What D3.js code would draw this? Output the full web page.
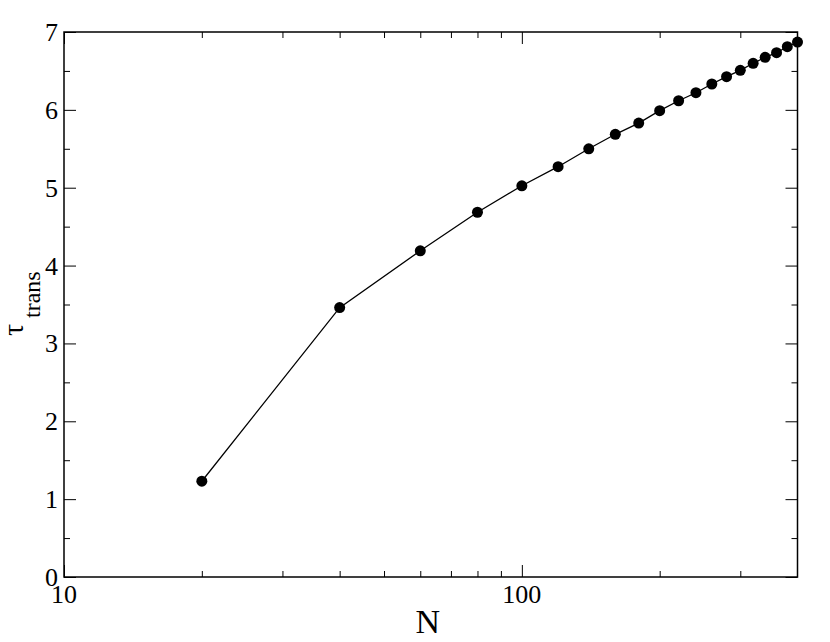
<!DOCTYPE html>
<html><head><meta charset="utf-8">
<script src="https://cdn.jsdelivr.net/npm/d3@7"></script>
<style>body{margin:0;background:#fff}svg{display:block}text{font-family:"Liberation Serif","Times New Roman",serif;fill:#000}</style>
</head><body>
<svg id="c" width="830" height="642"></svg>
<script>
const nValues = [20,40,60,80,100,120,140,160,180,200,220,240,260,280,300,320,340,360,380,400];
const tauValues = [1.23,3.46,4.19,4.685,5.025,5.27,5.50,5.686,5.83,5.99,6.117,6.22,6.332,6.426,6.508,6.598,6.675,6.734,6.811,6.871];
const xMajorTicks = [10,100];
const xMinorTicks = [20,30,40,50,60,70,80,90,200,300];
const yMajorTicks = [0,1,2,3,4,5,6,7];
const yMinorTicks = [0.5,1.5,2.5,3.5,4.5,5.5,6.5];

const L=64,R=797.5,T=32,B=577;
const svg=d3.select("#c");
const x=d3.scaleLog().domain([10,400]).range([L,R]);
const y=d3.scaleLinear().domain([0,7]).range([B,T]);

const g=svg.append("g");
function ticks(axisGen, transform, vals, len){
  const a=g.append("g").attr("transform",transform)
    .call(axisGen.tickValues(vals).tickSize(len).tickFormat(""));
  a.select(".domain").remove();
  a.selectAll("line").attr("stroke","#000").attr("stroke-width",1);
}
// inward ticks on all four sides
ticks(d3.axisTop(x),`translate(0,${B})`,xMajorTicks,12);
ticks(d3.axisTop(x),`translate(0,${B})`,xMinorTicks,6);
ticks(d3.axisBottom(x),`translate(0,${T})`,xMajorTicks,12);
ticks(d3.axisBottom(x),`translate(0,${T})`,xMinorTicks,6);
ticks(d3.axisRight(y),`translate(${L},0)`,yMajorTicks,12);
ticks(d3.axisRight(y),`translate(${L},0)`,yMinorTicks,6);
ticks(d3.axisLeft(y),`translate(${R},0)`,yMajorTicks,12);
ticks(d3.axisLeft(y),`translate(${R},0)`,yMinorTicks,6);

g.append("rect").attr("x",L).attr("y",T).attr("width",R-L).attr("height",B-T)
  .attr("fill","none").attr("stroke","#000").attr("stroke-width",1.5);

// tick labels
g.selectAll(".xl").data(xMajorTicks).enter().append("text")
  .attr("x",d=>x(d)).attr("y",B+26).attr("text-anchor","middle")
  .attr("font-size",26).text(d=>d);
g.selectAll(".yl").data(yMajorTicks).enter().append("text")
  .attr("x",L-6).attr("y",d=>y(d)+9).attr("text-anchor","end")
  .attr("font-size",26).text(d=>d);

// line + markers
const pts=nValues.map((n,i)=>[n,tauValues[i]]);
g.append("path").datum(pts)
  .attr("d",d3.line().x(d=>x(d[0])).y(d=>y(d[1])))
  .attr("fill","none").attr("stroke","#000").attr("stroke-width",1.3);
g.selectAll("circle").data(pts).enter().append("circle")
  .attr("cx",d=>x(d[0])).attr("cy",d=>y(d[1])).attr("r",5.5).attr("fill","#000");

// axis titles
g.append("text").attr("x",(L+R)/2-3).attr("y",633).attr("text-anchor","middle")
  .attr("font-size",34).text("N");
const yt=g.append("text").attr("transform","rotate(-90)");
yt.append("tspan").attr("x",-336).attr("y",23).attr("font-size",30).text("τ");
yt.append("tspan").attr("x",-318).attr("y",40).attr("font-size",24).text("trans");
</script>
</body></html>
